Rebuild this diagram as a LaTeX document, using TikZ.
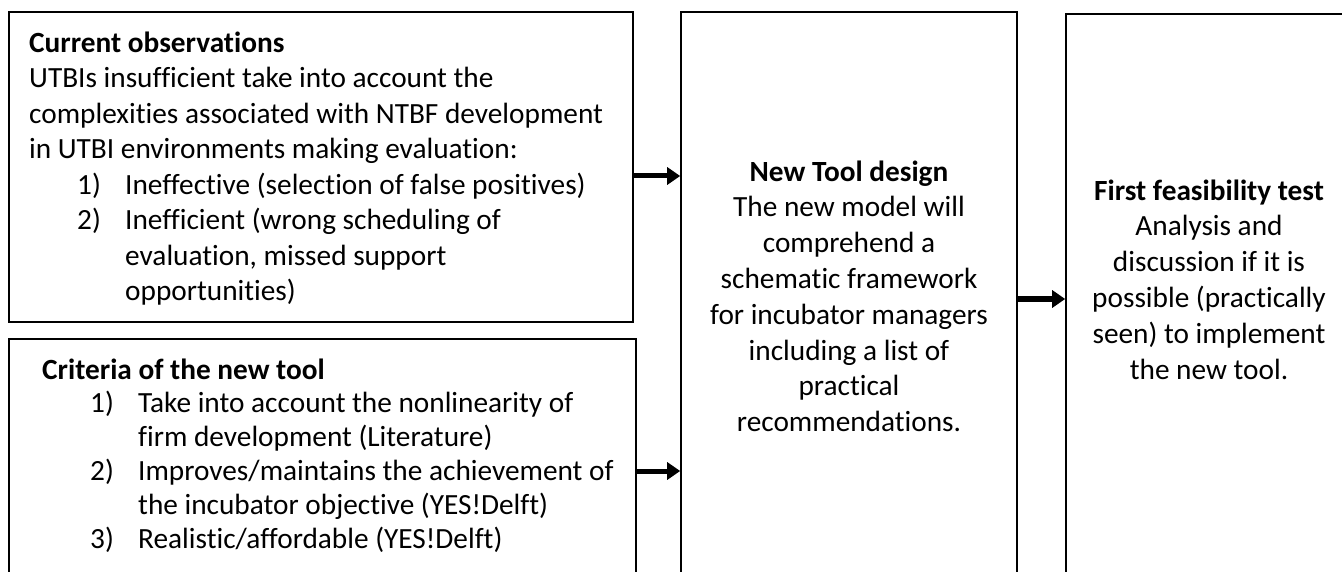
\documentclass[tikz,border=0pt]{standalone}
\usepackage{fontspec}
\setmainfont{Carlito}[RawFeature=-liga]
\usetikzlibrary{arrows.meta}
\tikzset{
  box/.style={draw=black, line width=1.6pt, rectangle, inner sep=0pt},
  txt/.style={inner sep=0pt, font=\fontsize{29.3}{35.5}\selectfont},
  arr/.style={line width=5pt, -{Triangle[length=13pt,width=17pt]}},
}
\newcommand{\itm}[1]{\hspace*{48pt}\makebox[48pt][l]{#1}}
\newcommand{\cont}{\hspace*{96pt}}
\begin{document}
\begin{tikzpicture}[x=1pt,y=-1pt]
\useasboundingbox (0,0) rectangle (1342,572);

% boxes
\node[box, minimum width=624pt, minimum height=310pt] (obs) at (321,167) {};
\node[box, minimum width=627pt, minimum height=261pt] (crit) at (322.5,469.5) {};
\node[box, minimum width=336pt, minimum height=588pt] (design) at (849,306) {};
\node[box, minimum width=300pt, minimum height=586pt] (feas) at (1216,307) {};

% texts (base anchor = baseline of the last line)
\node[txt, anchor=base west, align=left] (obstxt) at (29,300.5)
  {\textbf{Current observations}\\
   UTBIs insufficient take into account the\\
   complexities associated with NTBF development\\
   in UTBI environments making evaluation:\\
   \itm{1)}Ineffective (selection of false positives)\\
   \itm{2)}Inefficient (wrong scheduling of\\
   \cont evaluation, missed support\\
   \cont opportunities)};

\node[txt, anchor=base west, align=left, font=\fontsize{29.3}{33.8}\selectfont] (crittxt) at (42,548)
  {\textbf{Criteria of the new tool}\\
   \itm{1)}Take into account the nonlinearity of\\
   \cont firm development (Literature)\\
   \itm{2)}Improves/maintains the achievement of\\
   \cont the incubator objective (YES!Delft)\\
   \itm{3)}Realistic/affordable (YES!Delft)};

\node[txt, anchor=base, align=center, font=\fontsize{29.3}{35.8}\selectfont] (designtxt) at (849,431.6)
  {\textbf{New Tool design}\\
   The new model will\\
   comprehend a\\
   schematic framework\\
   for incubator managers\\
   including a list of\\
   practical\\
   recommendations.};

\node[txt, anchor=base, align=center, font=\fontsize{29.3}{35.8}\selectfont] (feastxt) at (1209,379)
  {\textbf{First feasibility test}\\
   Analysis and\\
   discussion if it is\\
   possible (practically\\
   seen) to implement\\
   the new tool.};

% arrow levels
\coordinate (lvA) at (0,176);
\coordinate (lvB) at (0,471);
\coordinate (lvC) at (0,299);

% connectors
\draw[arr] (obs.east |- lvA) -- (design.west |- lvA);
\draw[arr] (crit.east |- lvB) -- (design.west |- lvB);
\draw[arr] (design.east |- lvC) -- (feas.west |- lvC);
\end{tikzpicture}
\end{document}
